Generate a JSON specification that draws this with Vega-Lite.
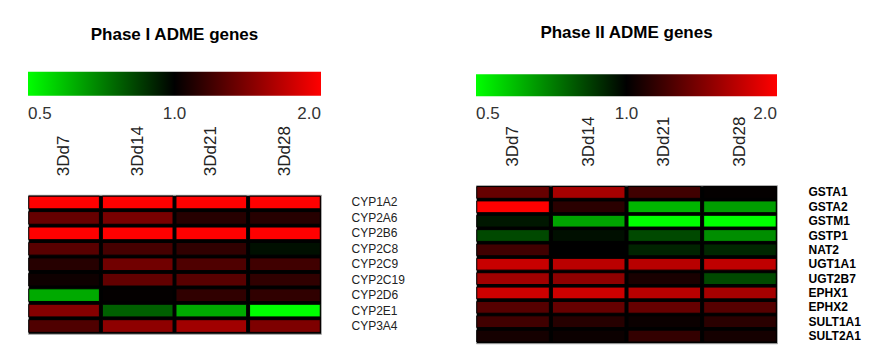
{
  "$schema": "https://vega.github.io/schema/vega-lite/v6.json",
  "padding": {"left": 27, "top": 23, "right": 5, "bottom": 5},
  "background": "white",
  "spacing": 70,
  "center": true,
  "config": {
    "view": {"fill": "#000000", "stroke": "#aaaaaa", "strokeWidth": 1},
    "font": "Liberation Sans",
    "title": {"font": "Liberation Sans", "fontSize": 17, "fontWeight": "bold", "color": "#000000", "anchor": "middle"},
    "axis": {"labelFont": "Liberation Sans", "ticks": false, "domain": false, "grid": false, "title": null},
    "legend": {"labelFont": "Liberation Sans"}
  },
  "resolve": {"scale": {"color": "independent"}, "legend": {"color": "independent"}},
  "datasets": {
    "phase1": [
      {"gene": "CYP1A2", "day": "3Dd7", "ratio": 2.0}, {"gene": "CYP1A2", "day": "3Dd14", "ratio": 2.0}, {"gene": "CYP1A2", "day": "3Dd21", "ratio": 2.0}, {"gene": "CYP1A2", "day": "3Dd28", "ratio": 2.0},
      {"gene": "CYP2A6", "day": "3Dd7", "ratio": 1.32}, {"gene": "CYP2A6", "day": "3Dd14", "ratio": 1.39}, {"gene": "CYP2A6", "day": "3Dd21", "ratio": 1.11}, {"gene": "CYP2A6", "day": "3Dd28", "ratio": 1.11},
      {"gene": "CYP2B6", "day": "3Dd7", "ratio": 2.0}, {"gene": "CYP2B6", "day": "3Dd14", "ratio": 2.0}, {"gene": "CYP2B6", "day": "3Dd21", "ratio": 2.0}, {"gene": "CYP2B6", "day": "3Dd28", "ratio": 2.0},
      {"gene": "CYP2C8", "day": "3Dd7", "ratio": 1.27}, {"gene": "CYP2C8", "day": "3Dd14", "ratio": 1.21}, {"gene": "CYP2C8", "day": "3Dd21", "ratio": 1.14}, {"gene": "CYP2C8", "day": "3Dd28", "ratio": 0.96},
      {"gene": "CYP2C9", "day": "3Dd7", "ratio": 1.11}, {"gene": "CYP2C9", "day": "3Dd14", "ratio": 1.36}, {"gene": "CYP2C9", "day": "3Dd21", "ratio": 1.24}, {"gene": "CYP2C9", "day": "3Dd28", "ratio": 1.19},
      {"gene": "CYP2C19", "day": "3Dd7", "ratio": 1.04}, {"gene": "CYP2C19", "day": "3Dd14", "ratio": 1.3}, {"gene": "CYP2C19", "day": "3Dd21", "ratio": 1.27}, {"gene": "CYP2C19", "day": "3Dd28", "ratio": 1.14},
      {"gene": "CYP2D6", "day": "3Dd7", "ratio": 0.63}, {"gene": "CYP2D6", "day": "3Dd14", "ratio": 1.01}, {"gene": "CYP2D6", "day": "3Dd21", "ratio": 1.14}, {"gene": "CYP2D6", "day": "3Dd28", "ratio": 1.14},
      {"gene": "CYP2E1", "day": "3Dd7", "ratio": 1.44}, {"gene": "CYP2E1", "day": "3Dd14", "ratio": 0.77}, {"gene": "CYP2E1", "day": "3Dd21", "ratio": 0.63}, {"gene": "CYP2E1", "day": "3Dd28", "ratio": 0.5},
      {"gene": "CYP3A4", "day": "3Dd7", "ratio": 1.24}, {"gene": "CYP3A4", "day": "3Dd14", "ratio": 1.47}, {"gene": "CYP3A4", "day": "3Dd21", "ratio": 1.55}, {"gene": "CYP3A4", "day": "3Dd28", "ratio": 1.41}
    ],
    "phase2": [
      {"gene": "GSTA1", "day": "3Dd7", "ratio": 1.32}, {"gene": "GSTA1", "day": "3Dd14", "ratio": 1.57}, {"gene": "GSTA1", "day": "3Dd21", "ratio": 1.19}, {"gene": "GSTA1", "day": "3Dd28", "ratio": 1.01},
      {"gene": "GSTA2", "day": "3Dd7", "ratio": 2.0}, {"gene": "GSTA2", "day": "3Dd14", "ratio": 1.12}, {"gene": "GSTA2", "day": "3Dd21", "ratio": 0.61}, {"gene": "GSTA2", "day": "3Dd28", "ratio": 0.65},
      {"gene": "GSTM1", "day": "3Dd7", "ratio": 0.94}, {"gene": "GSTM1", "day": "3Dd14", "ratio": 0.64}, {"gene": "GSTM1", "day": "3Dd21", "ratio": 0.5}, {"gene": "GSTM1", "day": "3Dd28", "ratio": 0.5},
      {"gene": "GSTP1", "day": "3Dd7", "ratio": 0.82}, {"gene": "GSTP1", "day": "3Dd14", "ratio": 0.96}, {"gene": "GSTP1", "day": "3Dd21", "ratio": 0.82}, {"gene": "GSTP1", "day": "3Dd28", "ratio": 0.68},
      {"gene": "NAT2", "day": "3Dd7", "ratio": 1.19}, {"gene": "NAT2", "day": "3Dd14", "ratio": 1.0}, {"gene": "NAT2", "day": "3Dd21", "ratio": 0.91}, {"gene": "NAT2", "day": "3Dd28", "ratio": 0.9},
      {"gene": "UGT1A1", "day": "3Dd7", "ratio": 1.72}, {"gene": "UGT1A1", "day": "3Dd14", "ratio": 1.66}, {"gene": "UGT1A1", "day": "3Dd21", "ratio": 1.65}, {"gene": "UGT1A1", "day": "3Dd28", "ratio": 1.68},
      {"gene": "UGT2B7", "day": "3Dd7", "ratio": 1.55}, {"gene": "UGT2B7", "day": "3Dd14", "ratio": 1.47}, {"gene": "UGT2B7", "day": "3Dd21", "ratio": 1.07}, {"gene": "UGT2B7", "day": "3Dd28", "ratio": 0.82},
      {"gene": "EPHX1", "day": "3Dd7", "ratio": 1.74}, {"gene": "EPHX1", "day": "3Dd14", "ratio": 1.74}, {"gene": "EPHX1", "day": "3Dd21", "ratio": 1.65}, {"gene": "EPHX1", "day": "3Dd28", "ratio": 1.57},
      {"gene": "EPHX2", "day": "3Dd7", "ratio": 1.26}, {"gene": "EPHX2", "day": "3Dd14", "ratio": 1.32}, {"gene": "EPHX2", "day": "3Dd21", "ratio": 1.32}, {"gene": "EPHX2", "day": "3Dd28", "ratio": 1.26},
      {"gene": "SULT1A1", "day": "3Dd7", "ratio": 1.19}, {"gene": "SULT1A1", "day": "3Dd14", "ratio": 1.11}, {"gene": "SULT1A1", "day": "3Dd21", "ratio": 1.03}, {"gene": "SULT1A1", "day": "3Dd28", "ratio": 1.12},
      {"gene": "SULT2A1", "day": "3Dd7", "ratio": 1.06}, {"gene": "SULT2A1", "day": "3Dd14", "ratio": 1.03}, {"gene": "SULT2A1", "day": "3Dd21", "ratio": 1.15}, {"gene": "SULT2A1", "day": "3Dd28", "ratio": 1.06}
    ]
  },
  "hconcat": [
    {
      "title": {"text": "Phase I ADME genes", "offset": 28},
      "width": 293,
      "height": 139,
      "data": {"name": "phase1"},
      "mark": {"type": "rect", "stroke": "#000000", "strokeWidth": 1},
      "encoding": {
        "x": {"field": "day", "type": "nominal", "sort": null,
              "scale": {"paddingInner": 0.04, "paddingOuter": 0.01},
              "axis": {"orient": "top", "labelAngle": -90, "labelPadding": 19, "labelFontSize": 17, "labelColor": "#222222"}},
        "y": {"field": "gene", "type": "nominal", "sort": null,
              "scale": {"paddingInner": 0.18, "paddingOuter": 0.09},
              "axis": {"orient": "right", "labelPadding": 30, "labelFontSize": 12, "labelColor": "#222222"}},
        "color": {"field": "ratio", "type": "quantitative",
                  "scale": {"type": "log", "domain": [0.5, 1, 2], "range": ["#00ff00", "#000000", "#ff0000"], "interpolate": "rgb", "clamp": true},
                  "legend": {"orient": "none", "legendX": 0, "legendY": -123, "direction": "horizontal", "title": null,
                             "gradientLength": 293, "gradientThickness": 24, "gradientStrokeWidth": 0,
                             "values": [0.5, 1, 2], "format": ".1f", "labelFontSize": 17, "labelColor": "#333333", "labelOffset": 10}}
      }
    },
    {
      "title": {"text": "Phase II ADME genes", "offset": 32},
      "width": 301,
      "height": 158,
      "data": {"name": "phase2"},
      "mark": {"type": "rect", "stroke": "#000000", "strokeWidth": 1},
      "encoding": {
        "x": {"field": "day", "type": "nominal", "sort": null,
              "scale": {"paddingInner": 0.04, "paddingOuter": 0.01},
              "axis": {"orient": "top", "labelAngle": -90, "labelPadding": 19, "labelFontSize": 17, "labelColor": "#222222"}},
        "y": {"field": "gene", "type": "nominal", "sort": null,
              "scale": {"paddingInner": 0.18, "paddingOuter": 0.09},
              "axis": {"orient": "right", "labelPadding": 31, "labelFontSize": 12, "labelFontWeight": "bold", "labelColor": "#000000"}},
        "color": {"field": "ratio", "type": "quantitative",
                  "scale": {"type": "log", "domain": [0.5, 1, 2], "range": ["#00ff00", "#000000", "#ff0000"], "interpolate": "rgb", "clamp": true},
                  "legend": {"orient": "none", "legendX": 0, "legendY": -111, "direction": "horizontal", "title": null,
                             "gradientLength": 301, "gradientThickness": 22, "gradientStrokeWidth": 0,
                             "values": [0.5, 1, 2], "format": ".1f", "labelFontSize": 17, "labelColor": "#333333", "labelOffset": 10}}
      }
    }
  ]
}
